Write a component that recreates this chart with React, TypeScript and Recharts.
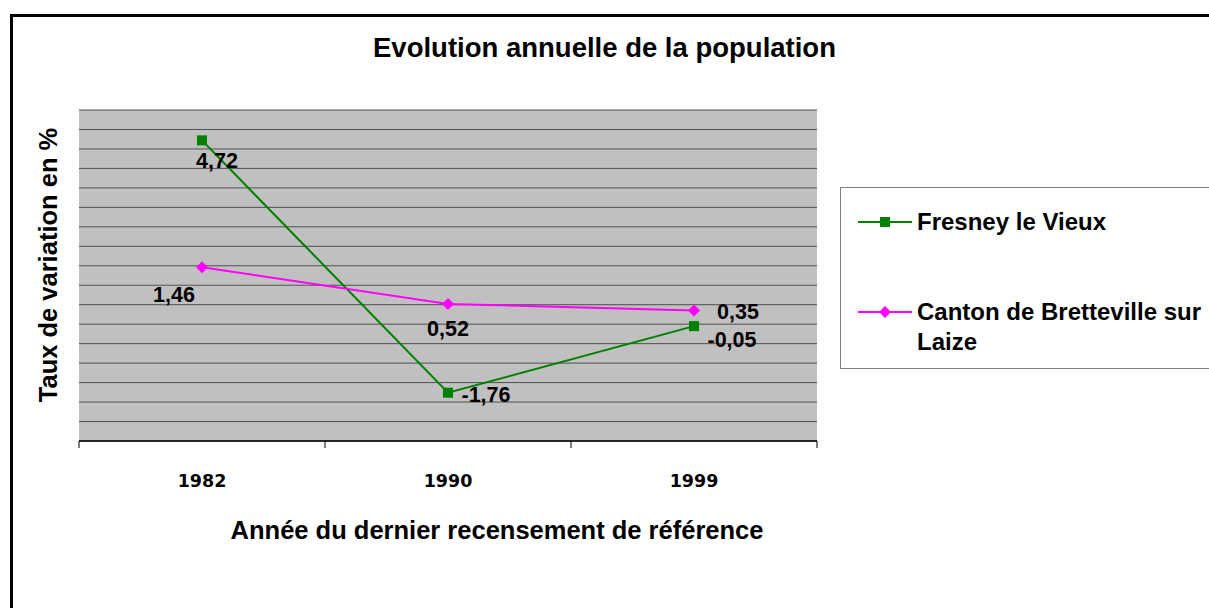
import { CartesianGrid, LabelList, Line, LineChart, XAxis, YAxis } from 'recharts'

const years = ['1982', '1990', '1999']
const fresney = [4.72, -1.76, -0.05]
const canton = [1.46, 0.52, 0.35]
const yTicks = [-3, -2.5, -2, -1.5, -1, -0.5, 0, 0.5, 1, 1.5, 2, 2.5, 3, 3.5, 4, 4.5, 5, 5.5]

const GREEN = '#008000'
const MAGENTA = '#FF00FF'
const FONT = '"Liberation Sans", Arial, sans-serif'

const data = years.map((year, i) => ({ year, fresney: fresney[i], canton: canton[i] }))

const W = 1209
const H = 608
const M = { top: 110, right: 392, bottom: 107, left: 79 }
const BAND = (W - M.left - M.right) / years.length

// label offsets per point (dx, dy from the marker centre)
const fresneyOffsets = [[15, 21], [38, 2], [38, 14]]
const cantonOffsets = [[-28, 28], [0, 25], [44, 1]]

const fmt = (v: number) => v.toFixed(2).replace('.', ',')

function SquareDot(props: any) {
  const { cx, cy } = props
  if (cx == null || cy == null) return null
  return <rect x={cx - 5} y={cy - 5} width={10} height={10} fill={GREEN} />
}

function DiamondDot(props: any) {
  const { cx, cy } = props
  if (cx == null || cy == null) return null
  return <path d={`M${cx},${cy - 6}L${cx + 6},${cy}L${cx},${cy + 6}L${cx - 6},${cy}Z`} fill={MAGENTA} />
}

function makeLabel(offsets: number[][]) {
  return (props: any) => {
    const { x, y, value, index } = props
    const [dx, dy] = offsets[index] ?? [0, 0]
    return (
      <text
        x={x + dx}
        y={y + dy}
        textAnchor="middle"
        dominantBaseline="central"
        fontFamily={FONT}
        fontWeight="bold"
        fontSize={21.5}
        fill="#000"
      >
        {fmt(value)}
      </text>
    )
  }
}

function YearTick(props: any) {
  const { x, y, payload, index } = props
  return (
    <g>
      <line x1={x - BAND / 2} y1={y - 8} x2={x - BAND / 2} y2={y - 1} stroke="#000" />
      {index === years.length - 1 && (
        <line x1={x + BAND / 2} y1={y - 8} x2={x + BAND / 2} y2={y - 1} stroke="#000" />
      )}
      <text
        x={x}
        y={y + 32}
        textAnchor="middle"
        dominantBaseline="central"
        fontFamily='"DejaVu Sans", sans-serif'
        fontWeight="bold"
        fontSize={17.5}
        fill="#000"
      >
        {payload.value}
      </text>
    </g>
  )
}

function LegendBox() {
  const entries = [
    { color: GREEN, dot: 'square', lines: ['Fresney le Vieux'], top: 34 },
    { color: MAGENTA, dot: 'diamond', lines: ['Canton de Bretteville sur', 'Laize'], top: 124 },
  ]
  return (
    <div
      style={{
        position: 'absolute',
        left: 840,
        top: 187,
        width: 400,
        height: 180,
        border: '1px solid #808080',
        background: '#fff',
        fontFamily: FONT,
        fontWeight: 'bold',
        fontSize: 24,
      }}
    >
      {entries.map((e) => (
        <div key={e.lines[0]} style={{ position: 'absolute', left: 17, top: e.top - 13 }}>
          <svg width={56} height={26} style={{ position: 'absolute', left: 0, top: 0 }}>
            <line x1={0} y1={13} x2={54} y2={13} stroke={e.color} strokeWidth={2} />
            {e.dot === 'square' ? (
              <rect x={22} y={8} width={10} height={10} fill={e.color} />
            ) : (
              <path d="M27,7L33,13L27,19L21,13Z" fill={e.color} />
            )}
          </svg>
          <div style={{ position: 'absolute', left: 59, top: -2, whiteSpace: 'nowrap', lineHeight: '30px' }}>
            {e.lines.map((l) => (
              <div key={l}>{l}</div>
            ))}
          </div>
        </div>
      ))}
    </div>
  )
}

export default function App() {
  return (
    <div style={{ position: 'absolute', left: 0, top: 0, width: W, height: H, overflow: 'hidden', background: '#fff' }}>
      <div
        style={{
          position: 'absolute',
          left: 10,
          top: 14,
          width: W + 20,
          height: H + 20,
          border: '3px solid #000',
          boxSizing: 'border-box',
        }}
      />
      <LineChart width={W} height={H} data={data} margin={M} style={{ position: 'absolute', left: 0, top: 0 }}>
        <CartesianGrid fill="#C0C0C0" vertical={false} stroke="#505050" strokeWidth={1} />
        <XAxis
          dataKey="year"
          scale="band"
          axisLine={{ stroke: '#000', strokeWidth: 1.5 }}
          tickLine={false}
          tick={<YearTick />}
          height={60}
        />
        <YAxis
          domain={[-3, 5.5]}
          ticks={yTicks}
          interval={0}
          width={0}
          tick={() => <g />}
          tickLine={false}
          axisLine={{ stroke: '#808080', strokeWidth: 2 }}
          allowDataOverflow
        />
        <Line
          dataKey="fresney"
          stroke={GREEN}
          strokeWidth={2}
          dot={<SquareDot />}
          activeDot={false}
          isAnimationActive={false}
        >
          <LabelList dataKey="fresney" content={makeLabel(fresneyOffsets)} />
        </Line>
        <Line
          dataKey="canton"
          stroke={MAGENTA}
          strokeWidth={2}
          dot={<DiamondDot />}
          activeDot={false}
          isAnimationActive={false}
        >
          <LabelList dataKey="canton" content={makeLabel(cantonOffsets)} />
        </Line>
      </LineChart>
      <LegendBox />
      <div
        style={{
          position: 'absolute',
          left: 0,
          width: W,
          top: 32,
          textAlign: 'center',
          fontFamily: FONT,
          fontWeight: 'bold',
          fontSize: 27.5,
          lineHeight: '32px',
        }}
      >
        Evolution annuelle de la population
      </div>
      <div
        style={{
          position: 'absolute',
          left: 197,
          width: 600,
          top: 514,
          textAlign: 'center',
          fontFamily: FONT,
          fontWeight: 'bold',
          fontSize: 25.5,
          lineHeight: '32px',
        }}
      >
        Année du dernier recensement de référence
      </div>
      <div
        style={{
          position: 'absolute',
          left: 48 - 200,
          top: 265 - 16,
          width: 400,
          textAlign: 'center',
          transform: 'rotate(-90deg)',
          fontFamily: FONT,
          fontWeight: 'bold',
          fontSize: 25.5,
          lineHeight: '32px',
        }}
      >
        Taux de variation en %
      </div>
    </div>
  )
}
